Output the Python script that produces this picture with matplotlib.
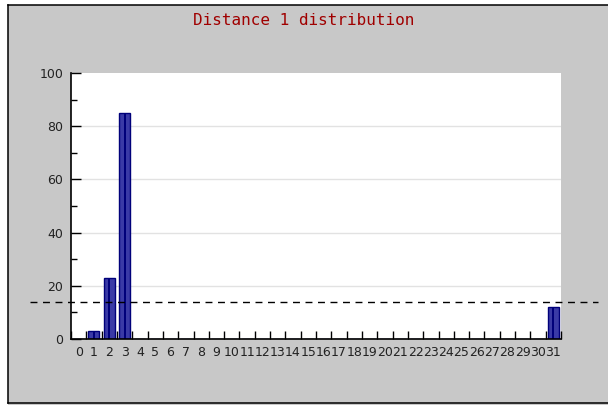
import matplotlib
matplotlib.use("Agg")
import matplotlib.pyplot as plt
import matplotlib.transforms as mtransforms
from matplotlib.patches import Rectangle
from matplotlib.lines import Line2D
import numpy as np

# distance histogram, one bar per distance 0..31
distances = list(range(32))
counts = [0, 3, 23, 85] + [0] * 27 + [12]
threshold = 14
title = "Distance 1 distribution"

W, H = 608, 405
fig = plt.figure(figsize=(W / 100, H / 100), dpi=100)
fig.patch.set_facecolor("#c8c8c8")
fig.patch.set_linewidth(0)

# white margin on the left and top, black frame on left/top/bottom
x0, y0, y1 = 7.5 / W, 1 - 403 / H, 1 - 4.5 / H
fig.patches.append(Rectangle((0, 0), x0, 1, transform=fig.transFigure,
                             facecolor="white", edgecolor="none", zorder=-10))
fig.patches.append(Rectangle((0, y1), 1, 1 - y1, transform=fig.transFigure,
                             facecolor="white", edgecolor="none", zorder=-10))
for xs, ys in (([x0, x0], [y0, y1]), ([x0, 1.1], [y1, y1]), ([x0, 1.1], [y0, y0])):
    fig.lines.append(Line2D(xs, ys, transform=fig.transFigure, color="black",
                            linewidth=1.1))

ax = fig.add_axes([71 / W, 1 - 339 / H, 490 / W, 266 / H])
ax.set_facecolor("white")

ax.bar(distances, counts, width=0.72, color="#3a3aa6", edgecolor="#00007a",
       linewidth=1.0, zorder=3)
# darker centre stripe on each bar
ax.bar(distances, counts, width=0.14, color="#00007a", linewidth=0, zorder=4)

ax.set_xlim(-0.5, 31.5)
ax.set_ylim(0, 100)

# y axis
ax.set_yticks(np.arange(0, 101, 20))
ax.set_yticks(np.arange(10, 100, 20), minor=True)
ax.tick_params(axis="y", which="major", direction="in", length=7, width=1,
               pad=5.5, labelsize=9, labelcolor="#222222")
ax.tick_params(axis="y", which="minor", direction="in", length=4, width=1)
for yv in range(20, 100, 20):
    ax.axhline(yv, color="#e2e2e2", linewidth=1, zorder=1)

# x axis: ticks on the bin edges, labels on the bin centres
ax.set_xticks(np.arange(-0.5, 32, 1))
ax.set_xticklabels([])
ax.set_xticks(distances, minor=True)
ax.set_xticklabels([str(d) for d in distances], minor=True)
ax.tick_params(axis="x", which="major", direction="in", length=6, width=1)
ax.tick_params(axis="x", which="minor", length=0, pad=5, labelsize=9,
               labelcolor="#222222")

for side in ("top", "right"):
    ax.spines[side].set_visible(False)
for side in ("left", "bottom"):
    ax.spines[side].set_linewidth(1.2)
    ax.spines[side].set_zorder(5)

# threshold line runs past the plot area
trans = mtransforms.blended_transform_factory(fig.transFigure, ax.transData)
ax.plot([30 / W, 598 / W], [threshold, threshold], transform=trans,
        color="black", linewidth=1, linestyle=(0, (5, 4)), clip_on=False, zorder=6)

fig.text(0.5, 1 - 20.5 / H, title, ha="center", va="center", color="#a00000",
         fontsize=11.5, family="DejaVu Sans Mono")

fig.savefig("out.png", dpi=100, facecolor=fig.get_facecolor())
